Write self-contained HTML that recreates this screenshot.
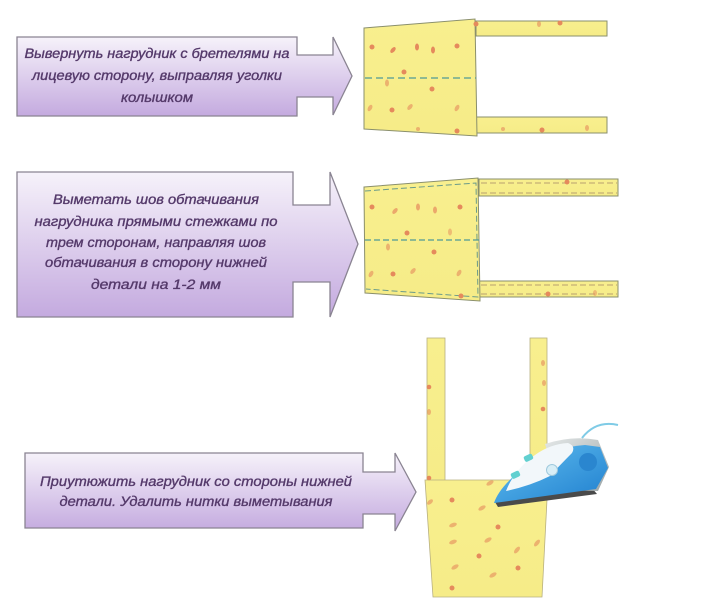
<!DOCTYPE html>
<html><head><meta charset="utf-8"><style>
html,body{margin:0;padding:0;background:#fff;}
svg{display:block;}
text{font-family:"Liberation Sans","DejaVu Sans",sans-serif;font-style:italic;fill:#553a6b;font-size:13.5px;stroke:#553a6b;stroke-width:0.35px;}
</style></head><body>
<svg width="713" height="607" viewBox="0 0 713 607" xmlns="http://www.w3.org/2000/svg">
<defs>
<linearGradient id="pg" x1="0" y1="0" x2="0" y2="1">
<stop offset="0" stop-color="#f6f2fa"/>
<stop offset="1" stop-color="#c4aadf"/>
</linearGradient>
<linearGradient id="fab" x1="0" y1="0" x2="0" y2="1">
<stop offset="0" stop-color="#f8ef8e"/>
<stop offset="1" stop-color="#f6ec88"/>
</linearGradient>
<linearGradient id="blue" x1="0" y1="0" x2="1" y2="1">
<stop offset="0" stop-color="#63c0f0"/>
<stop offset="1" stop-color="#1f7fcf"/>
</linearGradient>
<linearGradient id="gray" x1="0" y1="0" x2="1" y2="1">
<stop offset="0" stop-color="#e4e8e8"/>
<stop offset="1" stop-color="#9aa4a6"/>
</linearGradient>
</defs>

<!-- Arrow 1 -->
<path d="M17,37 H297 V55 H333 V37 L352,76 L333,115 V97 H297 V116 H17 Z" fill="url(#pg)" stroke="#8a8492" stroke-width="1.3"/>
<text x="157" y="58" text-anchor="middle" textLength="265" lengthAdjust="spacingAndGlyphs">Вывернуть нагрудник с бретелями на</text>
<text x="157" y="80" text-anchor="middle" textLength="250" lengthAdjust="spacingAndGlyphs">лицевую сторону, выправляя уголки</text>
<text x="157" y="102" text-anchor="middle" textLength="72" lengthAdjust="spacingAndGlyphs">колышком</text>

<!-- Arrow 2 -->
<path d="M17,172 H293 V205 H330 V172 L358,244 L330,317 V282 H293 V317 H17 Z" fill="url(#pg)" stroke="#8a8492" stroke-width="1.3"/>
<text x="156" y="204" text-anchor="middle" textLength="206" lengthAdjust="spacingAndGlyphs">Выметать шов обтачивания</text>
<text x="156" y="226" text-anchor="middle" textLength="243" lengthAdjust="spacingAndGlyphs">нагрудника прямыми стежками по</text>
<text x="156" y="247" text-anchor="middle" textLength="220" lengthAdjust="spacingAndGlyphs">трем сторонам, направляя шов</text>
<text x="156" y="267" text-anchor="middle" textLength="222" lengthAdjust="spacingAndGlyphs">обтачивания в сторону нижней</text>
<text x="156" y="289" text-anchor="middle" textLength="130" lengthAdjust="spacingAndGlyphs">детали на 1-2 мм</text>

<!-- Arrow 3 -->
<path d="M25,453 H363 V472 H395 V453 L416,492 L395,531 V514 H363 V528 H25 Z" fill="url(#pg)" stroke="#8a8492" stroke-width="1.3"/>
<text x="196" y="486" text-anchor="middle" textLength="312" lengthAdjust="spacingAndGlyphs">Приутюжить нагрудник со стороны нижней</text>
<text x="196" y="506" text-anchor="middle" textLength="273" lengthAdjust="spacingAndGlyphs">детали. Удалить нитки выметывания</text>

<!-- Panel 1 -->
<g stroke="#8a8f6c" stroke-width="1">
<rect x="476" y="21" width="131" height="15" fill="url(#fab)"/>
<rect x="476" y="117" width="131" height="16" fill="url(#fab)"/>
<polygon points="364,28 475,19 477,136 364,129" fill="url(#fab)"/>
</g>
<line x1="365" y1="78" x2="476" y2="78" stroke="#4f9a96" stroke-width="1.2" stroke-dasharray="7,4"/>
<g fill="#e58a5c">
<circle cx="372" cy="47" r="2.5"/><ellipse cx="393" cy="50" rx="2" ry="3.5" transform="rotate(40 393 50)"/>
<ellipse cx="417" cy="47" rx="2" ry="3.5"/><ellipse cx="433" cy="50" rx="2" ry="3.5"/>
<circle cx="457" cy="46" r="2.5"/><circle cx="404" cy="72" r="2.5"/>
<ellipse cx="387" cy="83" rx="2" ry="3.5" opacity=".6"/><circle cx="432" cy="89" r="2.5"/>
<ellipse cx="370" cy="108" rx="2" ry="3.5" transform="rotate(30 370 108)" opacity=".6"/>
<circle cx="392" cy="110" r="2.5"/><ellipse cx="410" cy="107" rx="2" ry="3.5" transform="rotate(40 410 107)" opacity=".6"/>
<ellipse cx="457" cy="108" rx="2" ry="3.5" transform="rotate(30 457 108)" opacity=".6"/>
<circle cx="457" cy="131" r="2.5"/><circle cx="418" cy="129" r="2" opacity=".6"/>
<circle cx="476" cy="24" r="2.5"/><circle cx="560" cy="23" r="2.5"/><ellipse cx="539" cy="24" rx="2" ry="3" opacity=".6"/>
<circle cx="542" cy="130" r="2.5"/><ellipse cx="587" cy="128" rx="2" ry="3" opacity=".6"/><circle cx="503" cy="129" r="2" opacity=".6"/>
</g>

<!-- Panel 2 -->
<g stroke="#8a8f6c" stroke-width="1">
<rect x="479" y="179" width="139" height="17" fill="url(#fab)"/>
<rect x="479" y="281" width="139" height="16" fill="url(#fab)"/>
<polygon points="364,187 478,178 480,301 365,293" fill="url(#fab)"/>
</g>
<g stroke="#6a9a8a" stroke-width="1" stroke-dasharray="6,3" fill="none">
<polyline points="365,191 476,183 478,297 366,289"/>
<line x1="365" y1="240" x2="480" y2="240" stroke="#4f9a96" stroke-width="1.2"/>
<line x1="481" y1="183" x2="617" y2="183" stroke="#b8a070"/>
<line x1="481" y1="193" x2="617" y2="193" stroke="#b8a070"/>
<line x1="481" y1="285" x2="617" y2="285" stroke="#b8a070"/>
<line x1="481" y1="294" x2="617" y2="294" stroke="#b8a070"/>
</g>
<g fill="#e58a5c">
<circle cx="372" cy="207" r="2.5"/><ellipse cx="395" cy="211" rx="2" ry="3.5" transform="rotate(40 395 211)" opacity=".7"/>
<ellipse cx="418" cy="207" rx="2" ry="3.5" opacity=".7"/><ellipse cx="435" cy="210" rx="2" ry="3.5" opacity=".7"/>
<circle cx="460" cy="207" r="2.5"/><circle cx="407" cy="233" r="2.5"/>
<ellipse cx="388" cy="247" rx="2" ry="3.5" opacity=".6"/><circle cx="434" cy="252" r="2.5"/>
<ellipse cx="371" cy="274" rx="2" ry="3.5" transform="rotate(30 371 274)" opacity=".6"/>
<circle cx="393" cy="274" r="2.5"/><ellipse cx="413" cy="271" rx="2" ry="3.5" transform="rotate(40 413 271)" opacity=".6"/>
<ellipse cx="459" cy="273" rx="2" ry="3.5" transform="rotate(30 459 273)" opacity=".6"/>
<circle cx="461" cy="296" r="2.5"/><ellipse cx="450" cy="232" rx="2" ry="3.5" opacity=".5"/>
<circle cx="567" cy="182" r="2.5"/><circle cx="548" cy="294" r="2.5"/><ellipse cx="595" cy="293" rx="2" ry="3" opacity=".5"/>
</g>

<!-- Panel 3 -->
<g stroke="#b8b080" stroke-width="0.8">
<rect x="427" y="338" width="18" height="143" fill="url(#fab)"/>
<rect x="530" y="338" width="17" height="143" fill="url(#fab)"/>
<polygon points="425,480 548,480 542,597 433,597" fill="url(#fab)"/>
</g>
<g fill="#e58a5c">
<circle cx="429" cy="387" r="2.3"/><ellipse cx="429" cy="412" rx="2" ry="3" opacity=".6"/>
<circle cx="429" cy="478" r="2.3"/>
<circle cx="543" cy="409" r="2.3"/><ellipse cx="543" cy="363" rx="2" ry="3" opacity=".6"/><ellipse cx="544" cy="383" rx="2" ry="3" opacity=".6"/>
<circle cx="452" cy="500" r="2.5"/><ellipse cx="430" cy="502" rx="2" ry="3.5" transform="rotate(50 430 502)" opacity=".6"/>
<ellipse cx="482" cy="508" rx="2" ry="4" transform="rotate(60 482 508)" opacity=".6"/>
<ellipse cx="490" cy="483" rx="2" ry="4" transform="rotate(60 490 483)" opacity=".6"/>
<ellipse cx="453" cy="525" rx="2" ry="4" transform="rotate(70 453 525)" opacity=".6"/>
<circle cx="498" cy="527" r="2.5"/>
<ellipse cx="453" cy="542" rx="2" ry="4" transform="rotate(70 453 542)" opacity=".6"/>
<ellipse cx="488" cy="540" rx="2" ry="4" transform="rotate(60 488 540)" opacity=".6"/>
<circle cx="479" cy="556" r="2.5"/>
<ellipse cx="517" cy="550" rx="2" ry="4" transform="rotate(40 517 550)" opacity=".6"/>
<ellipse cx="455" cy="567" rx="2" ry="4" transform="rotate(60 455 567)" opacity=".6"/>
<circle cx="518" cy="568" r="2.5"/>
<ellipse cx="493" cy="575" rx="2" ry="4" transform="rotate(60 493 575)" opacity=".6"/>
<circle cx="452" cy="588" r="2.5"/>
<ellipse cx="537" cy="543" rx="2" ry="4" transform="rotate(40 537 543)" opacity=".6"/>
</g>

<!-- Iron -->
<path d="M582,438 Q596,420 618,425" fill="none" stroke="#7fcbe6" stroke-width="2"/>
<path d="M495,502 L592,488 L597,494 L498,507 Z" fill="#4a4a4a"/>
<path d="M545,444 Q572,435 598,440 L609,467 L598,491 L560,490 Z" fill="url(#gray)"/>
<path d="M494,503 Q500,485 530,463 Q555,447 585,445 L600,447 L608,468 L596,489 Q545,496 494,503 Z" fill="url(#blue)"/>
<path d="M506,491 Q514,470 535,455 Q550,444 568,443 Q576,446 572,453 Q560,465 550,476 Q530,486 506,491 Z" fill="#f2f7fa"/>
<ellipse cx="588" cy="462" rx="9" ry="9" fill="#2a86cf"/>
<circle cx="552" cy="470" r="5.5" fill="#d8eef6" stroke="#9fc9dd" stroke-width="1"/>
<rect x="524" y="455" width="9" height="6" rx="2" fill="#62d0d0" transform="rotate(-25 528 458)"/>
<rect x="511" y="472" width="9" height="6" rx="2" fill="#62d0d0" transform="rotate(-25 515 475)"/>
</svg>
</body></html>
